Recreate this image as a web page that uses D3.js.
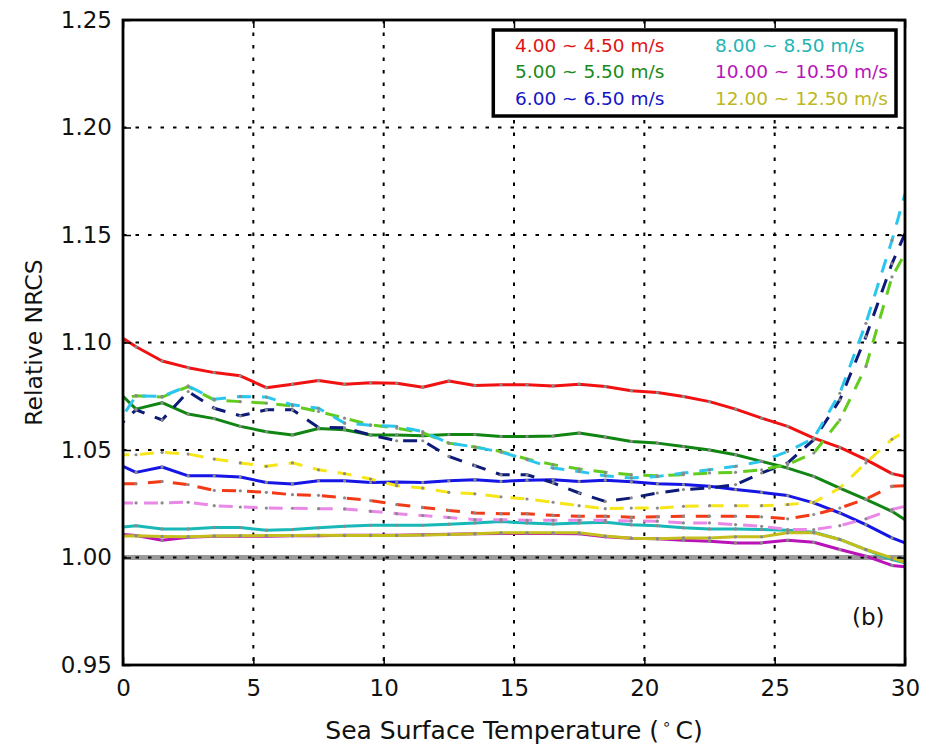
<!DOCTYPE html>
<html>
<head>
<meta charset="utf-8">
<script src="https://cdn.jsdelivr.net/npm/d3@7/dist/d3.min.js"></script>
<style>
  html, body { margin: 0; padding: 0; background: #fff; }
  svg { display: block; font-family: "DejaVu Sans", sans-serif; }
</style>
</head>
<body>
<svg id="chart" width="932" height="746"></svg>
<script>
// ---------------- data ----------------
const sst = [0, 0.5, 1.5, 2.5, 3.5, 4.5, 5.5, 6.5, 7.5, 8.5, 9.5,
  10.5, 11.5, 12.5, 13.5, 14.5, 15.5, 16.5, 17.5, 18.5, 19.5,
  20.5, 21.5, 22.5, 23.5, 24.5, 25.5, 26.5, 27.5, 28.5, 29.5, 30];

const xTicks = [0, 5, 10, 15, 20, 25, 30];
const yTicks = [0.95, 1.00, 1.05, 1.10, 1.15, 1.20, 1.25];

const legendLabels = ["4.00 ~ 4.50 m/s", "5.00 ~ 5.50 m/s", "6.00 ~ 6.50 m/s",
  "8.00 ~ 8.50 m/s", "10.00 ~ 10.50 m/s", "12.00 ~ 12.50 m/s"];

// solid series
const red4 = [1.102, 1.098, 1.0914, 1.0883, 1.086, 1.0845, 1.079, 1.0806, 1.0823, 1.0806, 1.0813,
  1.081, 1.0792, 1.0821, 1.080, 1.0803, 1.0803, 1.0798, 1.0806, 1.0795, 1.0776,
  1.0767, 1.0749, 1.0725, 1.069, 1.0648, 1.061, 1.0555, 1.0512, 1.0455, 1.039, 1.0377];
const green5 = [1.075, 1.069, 1.072, 1.0667, 1.0646, 1.061, 1.0585, 1.057, 1.060, 1.0594, 1.057,
  1.057, 1.0566, 1.0572, 1.0572, 1.0563, 1.0563, 1.0565, 1.0579, 1.056, 1.054,
  1.0532, 1.0516, 1.050, 1.0478, 1.0447, 1.0416, 1.0377, 1.0323, 1.027, 1.0215, 1.0176];
const blue6 = [1.0424, 1.0396, 1.0421, 1.038, 1.038, 1.0374, 1.0349, 1.0342, 1.0357, 1.0357, 1.0349,
  1.0351, 1.0349, 1.0357, 1.0362, 1.0354, 1.0359, 1.0362, 1.0354, 1.0359, 1.0352,
  1.0343, 1.0339, 1.0331, 1.0316, 1.0303, 1.0288, 1.0254, 1.0207, 1.0153, 1.0091, 1.0068];
const cyan8 = [1.0142, 1.0148, 1.0133, 1.0133, 1.0139, 1.0139, 1.0127, 1.013, 1.0138, 1.0145, 1.015,
  1.015, 1.015, 1.0155, 1.0161, 1.0167, 1.0161, 1.0156, 1.0161, 1.0164, 1.0152,
  1.0148, 1.0138, 1.0133, 1.0133, 1.013, 1.0127, 1.0118, 1.0084, 1.0037, 0.999, 0.9975];
const magenta10 = [1.0107, 1.0102, 1.008, 1.0094, 1.0099, 1.0099, 1.0099, 1.0101, 1.0101, 1.0103, 1.0104,
  1.0104, 1.0106, 1.0108, 1.0110, 1.0112, 1.0112, 1.0112, 1.0110, 1.0096, 1.0090,
  1.0087, 1.008, 1.0076, 1.0068, 1.0068, 1.008, 1.0071, 1.0037, 1.0006, 0.9963, 0.9957];
const olive12 = [1.0100, 1.0101, 1.0098, 1.0097, 1.0100, 1.0101, 1.0102, 1.0102, 1.0103, 1.0102, 1.0102,
  1.0102, 1.0105, 1.0107, 1.0110, 1.0115, 1.0115, 1.0115, 1.0115, 1.0100, 1.0089,
  1.0087, 1.0091, 1.0091, 1.0096, 1.0096, 1.0115, 1.0115, 1.0084, 1.0037, 0.9998, 0.9978];

// dashed series
const redDash = [1.0343, 1.0343, 1.0354, 1.0339, 1.0312, 1.031, 1.0303, 1.0292, 1.0289, 1.0277, 1.0265,
  1.0246, 1.0233, 1.0219, 1.0207, 1.0204, 1.0203, 1.0196, 1.0192, 1.0192, 1.0187,
  1.0189, 1.0192, 1.0192, 1.0192, 1.0189, 1.018, 1.020, 1.023, 1.0272, 1.0331, 1.0334];
const greenDash = [1.074, 1.0752, 1.0746, 1.0795, 1.0733, 1.0725, 1.0718, 1.0705, 1.0679, 1.0648, 1.0617,
  1.0602, 1.058, 1.0532, 1.0514, 1.0493, 1.0458, 1.0432, 1.0412, 1.0396, 1.0385,
  1.038, 1.0385, 1.0393, 1.0396, 1.0408, 1.0432, 1.0486, 1.064, 1.0888, 1.1305, 1.1413];
const navyDash = [1.063, 1.0687, 1.064, 1.0772, 1.0694, 1.0659, 1.0687, 1.0687, 1.0605, 1.0603, 1.057,
  1.0543, 1.0543, 1.047, 1.0427, 1.0385, 1.0385, 1.0347, 1.030, 1.0261, 1.0277,
  1.030, 1.0316, 1.0323, 1.0339, 1.0393, 1.044, 1.0548, 1.0733, 1.1027, 1.1367, 1.1507];
const skyDash = [1.066, 1.0752, 1.0749, 1.0798, 1.0736, 1.0749, 1.0746, 1.071, 1.0694, 1.0625, 1.0615,
  1.061, 1.0586, 1.0532, 1.0514, 1.049, 1.0455, 1.0416, 1.040, 1.038, 1.037,
  1.0377, 1.0393, 1.0408, 1.0424, 1.0447, 1.0493, 1.0555, 1.0764, 1.1089, 1.1475, 1.1692];
const violetDash = [1.0254, 1.0254, 1.0254, 1.0257, 1.0241, 1.0235, 1.023, 1.0229, 1.0227, 1.0226, 1.0215,
  1.0204, 1.0195, 1.0186, 1.0176, 1.0176, 1.0173, 1.0173, 1.0173, 1.0173, 1.0170,
  1.0169, 1.0161, 1.0161, 1.0153, 1.0145, 1.013, 1.013, 1.0148, 1.018, 1.0223, 1.0238];
const yellowDash = [1.0478, 1.0478, 1.0489, 1.0481, 1.0458, 1.044, 1.0424, 1.044, 1.0408, 1.039, 1.0365,
  1.0334, 1.0323, 1.0303, 1.0296, 1.0282, 1.0272, 1.0257, 1.0241, 1.0227, 1.023,
  1.023, 1.0238, 1.0241, 1.0241, 1.0241, 1.0246, 1.0257, 1.0323, 1.044, 1.055, 1.0586];

const solidSeries = [
  { values: red4, color: "#f21111" },
  { values: green5, color: "#118511" },
  { values: blue6, color: "#1515e6" },
  { values: cyan8, color: "#19b8b8" },
  { values: magenta10, color: "#b812b8" },
  { values: olive12, color: "#c4be1c" }
];
const dashSeries = [
  { values: redDash, color: "#f23a16" },
  { values: violetDash, color: "#ea88e8" },
  { values: yellowDash, color: "#f7e617" },
  { values: navyDash, color: "#0c1a78" },
  { values: greenDash, color: "#62cc1e" },
  { values: skyDash, color: "#2ac6ee" }
];
const legendColors = ["#e01414", "#1a8a1a", "#1414c8", "#22b4b4", "#b814b8", "#bcb822"];

// ---------------- layout ----------------
const L = 123, R = 905, T = 20, B = 665;
const svg = d3.select("#chart");
const x = d3.scaleLinear().domain([0, 30]).range([L, R]);
const y = d3.scaleLinear().domain([0.95, 1.25]).range([B, T]);

svg.append("defs").append("clipPath").attr("id", "clip")
  .append("rect").attr("x", L).attr("y", T).attr("width", R - L).attr("height", B - T);

// reference line at 1.00
svg.append("line").attr("x1", L).attr("x2", R).attr("y1", y(1.0)).attr("y2", y(1.0))
  .attr("stroke", "#9a9a9a").attr("stroke-width", 5);

// grid
const grid = svg.append("g").attr("stroke", "#000").attr("stroke-width", 2)
  .attr("stroke-dasharray", "3.5,9");
grid.selectAll(".gx").data(xTicks.slice(1, -1)).enter().append("line")
  .attr("x1", d => x(d)).attr("x2", d => x(d)).attr("y1", T).attr("y2", B);
grid.selectAll(".gy").data(yTicks.slice(1, -1)).enter().append("line")
  .attr("y1", d => y(d)).attr("y2", d => y(d)).attr("x1", L).attr("x2", R);

// lines
const line = d3.line().x((d, i) => x(sst[i])).y(d => y(d));
const plot = svg.append("g").attr("clip-path", "url(#clip)");
solidSeries.forEach(s => {
  plot.append("path").attr("d", line(s.values)).attr("fill", "none")
    .attr("stroke", s.color).attr("stroke-width", 3).attr("stroke-linejoin", "round");
});
dashSeries.forEach((s, k) => {
  plot.append("path").attr("d", line(s.values)).attr("fill", "none")
    .attr("stroke", s.color).attr("stroke-width", 3)
    .attr("stroke-dasharray", "14,11").attr("stroke-dashoffset", k * 4);
});
// gray markers at data points
[...solidSeries, ...dashSeries].forEach(s => {
  plot.append("g").selectAll("circle")
    .data(s.values.map((v, i) => [sst[i], v]).filter(d => d[0] > 0 && d[0] < 30))
    .enter().append("circle")
    .attr("cx", d => x(d[0])).attr("cy", d => y(d[1])).attr("r", 1.6)
    .attr("fill", "#8a8a8a");
});

// axes
const fmtY = d3.format(".2f");
const axB = svg.append("g").attr("transform", `translate(0,${B})`)
  .call(d3.axisBottom(x).tickValues(xTicks).tickSize(-8).tickPadding(15).tickFormat(d3.format("d")));
const axL = svg.append("g").attr("transform", `translate(${L},0)`)
  .call(d3.axisLeft(y).tickValues(yTicks).tickSize(-8).tickPadding(11).tickFormat(fmtY));
const axT = svg.append("g").attr("transform", `translate(0,${T})`)
  .call(d3.axisTop(x).tickValues(xTicks).tickSize(-8).tickFormat(""));
const axR = svg.append("g").attr("transform", `translate(${R},0)`)
  .call(d3.axisRight(y).tickValues(yTicks).tickSize(-8).tickFormat(""));
[axB, axL, axT, axR].forEach(a => {
  a.select(".domain").remove();
  a.selectAll(".tick line").attr("stroke", "#000").attr("stroke-width", 1.5);
  a.selectAll("text").attr("font-family", "DejaVu Sans").attr("font-size", 23).attr("fill", "#111");
});

// frame
svg.append("rect").attr("x", L).attr("y", T).attr("width", R - L).attr("height", B - T)
  .attr("fill", "none").attr("stroke", "#000").attr("stroke-width", 2.8);

// axis labels
const xl = svg.append("text").attr("x", (L + R) / 2).attr("y", 739)
  .attr("text-anchor", "middle").attr("font-size", 25).attr("fill", "#111");
xl.append("tspan").text("Sea Surface Temperature (");
xl.append("tspan").attr("font-size", 15).attr("dx", 3).attr("dy", -10).text("\u2218");
xl.append("tspan").attr("dx", 4).attr("dy", 10).text("C)");

svg.append("text").attr("transform", `translate(42,${(T + B) / 2}) rotate(-90)`)
  .attr("text-anchor", "middle").attr("font-size", 23.5).attr("fill", "#111")
  .text("Relative NRCS");

// panel label
svg.append("text").attr("x", 852).attr("y", 625).attr("font-size", 23).attr("fill", "#111").text("(b)");

// legend
svg.append("rect").attr("x", 493.3).attr("y", 30).attr("width", 402.7).attr("height", 86)
  .attr("fill", "#fff").attr("stroke", "#000").attr("stroke-width", 3.5);
const legRows = [51.5, 78.3, 105];
legendLabels.forEach((t, i) => {
  svg.append("text").attr("x", i < 3 ? 515 : 715).attr("y", legRows[i % 3])
    .attr("font-size", 18.5).attr("fill", legendColors[i]).text(t);
});
</script>
</body>
</html>
